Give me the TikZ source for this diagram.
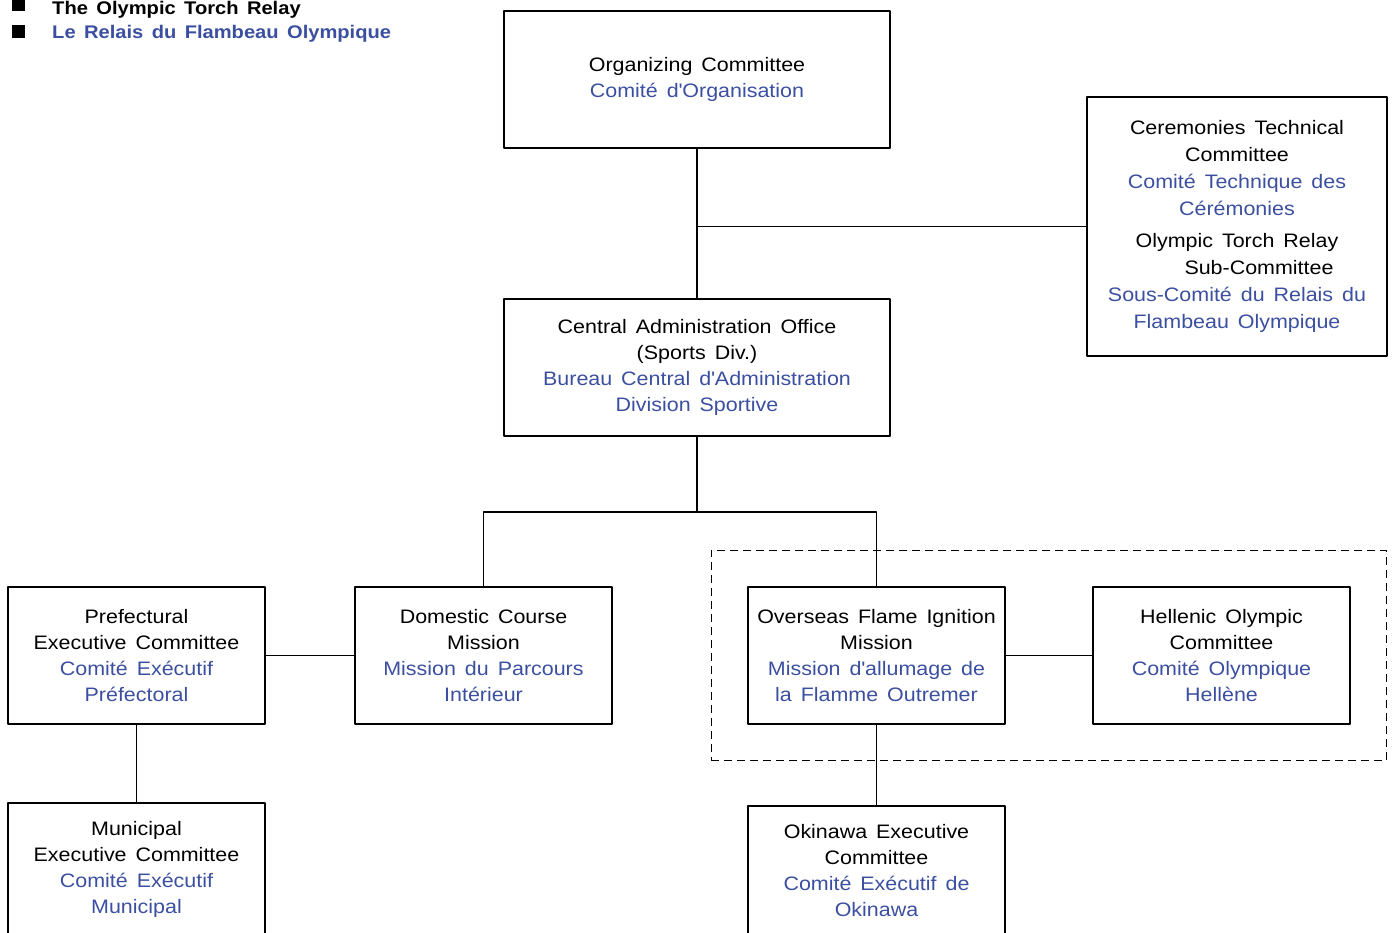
\documentclass[tikz,border=0pt]{standalone}
\usepackage{fontspec}
\setmainfont[FakeStretch=1.1,WordSpace=1.5]{Liberation Sans}
\usetikzlibrary{fit}
\definecolor{frblue}{RGB}{59,79,160}
\newcommand\fr[1]{\textcolor{frblue}{#1}}
\newcommand\apos{\textquotesingle}

\begin{document}
\begin{tikzpicture}[x=1pt,y=-1pt,line join=round,
  box/.style={draw,line width=1.3pt,align=center,inner sep=0pt,
    minimum width=257pt,minimum height=137pt,font=\fontsize{19.5}{26}\selectfont},
  widebox/.style={box,minimum width=386pt},
  link/.style={line width=1.3pt},
  bullet/.style={fill,minimum size=13pt,inner sep=0pt},
  heading/.style={anchor=base west,inner sep=0pt,font=\fontsize{18.3}{24}\selectfont\bfseries}]
\useasboundingbox (0,0) rectangle (1392,933);

% heading
\node[bullet] (sq1) at (18.5,5) {};
\node[bullet] (sq2) at (18.5,32) {};
\node[heading] (title1) at (52,15) {The Olympic Torch Relay};
\node[heading,text=frblue] (title2) at (52,39) {Le Relais du Flambeau Olympique};

% boxes
\node[widebox] (org) at (697,79.5) {Organizing Committee\\ \fr{Comité d\apos Organisation}};
\node[box,minimum width=300pt,minimum height=259pt,font=\fontsize{19.5}{26.8}\selectfont] (cer) at (1237,226.5)
  {Ceremonies Technical\\ Committee\\ \fr{Comité Technique des}\\ \fr{Cérémonies}\\[6pt]
   Olympic Torch Relay\\ \hspace*{44pt}Sub-Committee\\ \fr{Sous-Comité du Relais du}\\ \fr{Flambeau Olympique}};
\node[widebox] (central) at (697,367.5)
  {Central Administration Office\\ (Sports Div.)\\ \fr{Bureau Central d\apos Administration}\\ \fr{Division Sportive}};
\node[box] (pref) at (136.5,655.5)
  {Prefectural\\ Executive Committee\\ \fr{Comité Exécutif}\\ \fr{Préfectoral}};
\node[box] (domestic) at (483.5,655.5)
  {Domestic Course\\ Mission\\ \fr{Mission du Parcours}\\ \fr{Intérieur}};
\node[box] (overseas) at (876.5,655.5)
  {Overseas Flame Ignition\\ Mission\\ \fr{Mission d\apos allumage de}\\ \fr{la Flamme Outremer}};
\node[box] (hellenic) at (1221.5,655.5)
  {Hellenic Olympic\\ Committee\\ \fr{Comité Olympique}\\ \fr{Hellène}};
\node[box,minimum height=132pt] (muni) at (136.5,869)
  {Municipal\\ Executive Committee\\ \fr{Comité Exécutif}\\ \fr{Municipal}};
\node[box,minimum height=130pt] (okinawa) at (876.5,871)
  {Okinawa Executive\\ Committee\\ \fr{Comité Exécutif de}\\ \fr{Okinawa}};

\node[draw,line width=1.1pt,dash pattern=on 8pt off 5pt,inner sep=36pt,fit=(overseas)(hellenic)] (group) {};

% connectors
\coordinate (bus) at (0,512);
\draw[link] (org) -- (central);
\draw[link] (cer.west) -- (cer.west -| org.south);
\draw[link] (central.south) -- (central.south |- bus);
\draw[link] (domestic.north) -- (domestic.north |- bus) -- (overseas.north |- bus) -- (overseas.north);
\draw[link] (pref) -- (domestic);
\draw[link] (pref) -- (muni);
\draw[link] (overseas) -- (hellenic);
\draw[link] (overseas) -- (okinawa);
\end{tikzpicture}
\end{document}
